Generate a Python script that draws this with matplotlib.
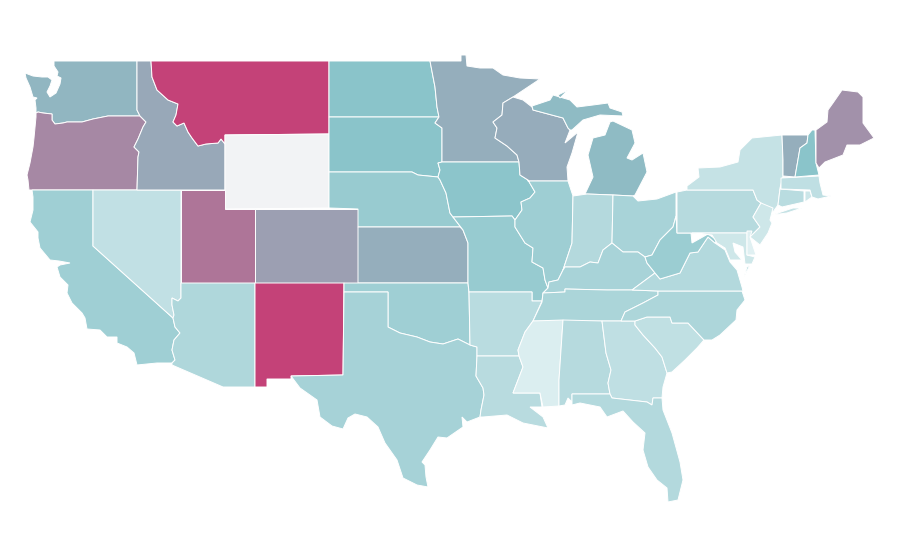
import matplotlib
matplotlib.use('Agg')
import matplotlib.pyplot as plt
from matplotlib.colors import LinearSegmentedColormap

# state values (nan = no data)
nan = float('nan')
states = ['WA', 'OR', 'CA', 'NV', 'ID', 'MT', 'WY', 'UT', 'AZ', 'CO', 'NM', 'ND', 'SD', 'NE', 'KS', 'OK', 'TX',
          'MN', 'IA', 'MO', 'AR', 'LA', 'WI', 'IL', 'MI', 'IN', 'OH', 'KY', 'TN', 'MS', 'AL', 'GA', 'FL', 'SC',
          'NC', 'VA', 'WV', 'PA', 'NY', 'NJ', 'MD', 'DE', 'CT', 'RI', 'MA', 'VT', 'NH', 'ME']
values = [0.47, 0.725, 0.265, 0.126, 0.60, 1.0, nan, 0.80, 0.20, 0.635, 1.0, 0.35, 0.35, 0.293, 0.55, 0.265, 0.236,
          0.55, 0.34, 0.297, 0.16, 0.167, 0.56, 0.27, 0.43, 0.18, 0.228, 0.228, 0.215, 0.02, 0.175, 0.134, 0.187, 0.13,
          0.21, 0.187, 0.285, 0.175, 0.11, 0.077, 0.077, 0.0, 0.16, 0.085, 0.134, 0.55, 0.35, 0.69]

# borders shared by two states, in picture coordinates
id_mt = [(151, 61), (152, 77), (157, 90), (168, 100), (178, 104), (176, 115), (173, 122), (177, 126), (184, 123),
         (188, 132), (192, 138), (198, 146), (206, 144), (218, 143), (221, 139), (225, 144)]
wa_or = [(36, 113), (38, 112), (43, 113), (52, 114), (52, 120), (55, 124), (63, 123), (67, 122), (82, 122),
         (93, 119), (108, 116), (140, 116)]
or_id = [(140, 116), (146, 122), (143, 127), (138, 139), (134, 147), (139, 152), (138, 157), (137, 190)]
ca_az = [(173, 318), (175, 327), (180, 333), (174, 340), (172, 350), (175, 360), (172, 363)]
nv_az = [(181, 283), (181, 298), (178, 301), (172, 298), (172, 305), (174, 315), (173, 318)]
ok_tx = [(388, 292), (388, 327), (400, 333), (417, 337), (430, 342), (443, 344), (458, 339), (470, 345)]
nd_mn = [(430, 61), (435, 87), (437, 107), (439, 117)]
sd_mn = [(439, 117), (435, 123), (442, 128), (442, 162)]
sd_ia = [(442, 162), (438, 163), (440, 170), (438, 177)]
ne_ia = [(438, 177), (440, 180), (446, 193), (450, 213), (453, 217)]
ne_mo = [(453, 217), (463, 230)]
mo_ks = [(463, 230), (468, 243), (468, 283)]
mn_wi = [(503, 103), (502, 115), (493, 122), (497, 128), (495, 138), (507, 146), (517, 155), (519, 162)]
ia_il = [(519, 162), (520, 175), (528, 180), (535, 192), (530, 198), (521, 202), (522, 210), (515, 220), (512, 216)]
il_mo = [(515, 220), (515, 227), (525, 243), (533, 248), (532, 262), (543, 268), (545, 280), (548, 288)]
il_ky = [(548, 288), (549, 282), (558, 280), (563, 270)]
in_il = [(563, 270), (572, 243), (573, 196), (568, 181)]
in_ky = [(563, 270), (565, 267), (580, 267), (590, 262), (598, 263), (603, 250), (612, 243)]
oh_ky = [(612, 243), (623, 252), (638, 252), (645, 257)]
oh_wv = [(645, 257), (652, 255), (660, 240), (673, 227), (676, 216)]
ky_wv = [(645, 257), (647, 263), (655, 273)]
ky_va = [(655, 273), (632, 290)]
wv_va = [(655, 273), (660, 279), (680, 273), (690, 253), (698, 252), (708, 237), (715, 243)]
ky_tn = [(543, 293), (565, 292), (565, 289), (607, 290), (632, 290)]
mo_tn = [(548, 288), (543, 293)]
la_ms = [(519, 356), (523, 367), (513, 393), (540, 393), (542, 407)]
tn_nc = [(658, 291), (658, 295), (643, 303), (625, 312), (621, 321)]
nc_sc = [(635, 321), (647, 317), (670, 317), (672, 323), (688, 323), (704, 340)]
sc_ga = [(635, 321), (635, 325), (643, 335), (655, 348), (662, 357), (667, 373)]
al_ga = [(602, 321), (606, 353), (611, 370), (608, 383), (610, 394)]
ny_pa = [(687, 190), (753, 190), (757, 200), (761, 203)]
pa_nj = [(761, 203), (753, 217), (760, 227), (750, 237)]
vt_nh = [(808, 135), (807, 143), (800, 148), (795, 177)]
ny_vt = [(782, 135), (783, 160), (783, 176)]

outlines = {
    'WA': [(54, 61), (137, 61), (137, 110)] + wa_or[::-1] + [(36, 108), (35, 100), (37, 98), (33, 97), (30, 87), (26, 78),
          (25, 73), (33, 76), (42, 77), (48, 77), (52, 80), (50, 86), (47, 92), (50, 97), (56, 93), (60, 84), (61, 78),
          (57, 76), (58, 72), (54, 66)],
    'OR': wa_or + or_id + [(29, 190), (28, 180), (27, 175), (30, 163), (33, 147), (34, 138), (36, 117)],
    'CA': [(32, 190), (93, 190), (93, 246)] + ca_az + [(157, 363), (137, 365), (134, 353), (127, 347), (117, 343), (117, 337),
          (107, 337), (100, 330), (87, 329), (85, 318), (82, 313), (72, 303), (67, 293), (68, 285), (60, 277), (57, 267),
          (60, 265), (70, 263), (59, 261), (50, 260), (40, 248), (38, 238), (38, 232), (30, 222), (33, 210), (33, 197)],
    'NV': [(93, 190), (181, 190)] + nv_az + [(93, 246)],
    'ID': [(137, 61)] + id_mt + [(225, 190)] + or_id[::-1] + [(137, 110)],
    'MT': id_mt + [(225, 135), (329, 134), (329, 61)],
    'WY': [(225, 135), (329, 134), (329, 208), (225, 209)],
    'UT': [(181, 190), (225, 190), (225, 209), (255, 209), (255, 283), (181, 283)],
    'AZ': [(181, 283), (255, 283), (255, 387), (223, 387), (172, 365)] + ca_az[::-1] + nv_az[::-1][1:],
    'CO': [(255, 209), (358, 209), (358, 283), (255, 283)],
    'NM': [(255, 283), (344, 283), (343, 375), (291, 376), (291, 379), (267, 379), (267, 387), (255, 387)],
    'ND': [(329, 61)] + nd_mn + [(329, 117)],
    'SD': [(329, 117)] + sd_mn + sd_ia + [(418, 175), (412, 172), (329, 172)],
    'NE': [(329, 172), (412, 172), (418, 175), (438, 177)] + ne_ia + ne_mo + [(460, 227), (358, 227), (358, 209), (329, 208)],
    'KS': [(358, 227), (460, 227)] + mo_ks + [(358, 283)],
    'OK': [(344, 283), (468, 283), (469, 293), (470, 345)] + ok_tx[::-1] + [(344, 292)],
    'TX': [(344, 292)] + ok_tx + [(477, 347), (477, 356), (476, 376), (483, 388), (484, 395), (481, 410), (480, 417),
          (467, 422), (462, 417), (463, 427), (447, 438), (438, 437), (430, 450), (422, 462), (425, 465), (426, 477),
          (428, 487), (417, 485), (403, 478), (397, 460), (385, 443), (378, 427), (367, 417), (355, 414), (348, 418),
          (343, 429), (332, 426), (320, 417), (317, 400), (300, 388), (291, 376), (343, 375)],
    'MN': nd_mn[:1] + [(461, 61), (461, 55), (466, 55), (467, 66), (480, 68), (493, 68), (503, 75), (520, 78), (540, 79),
          (513, 97)] + mn_wi + [(442, 162)] + sd_mn[::-1][1:] + nd_mn[::-1][1:],
    'IA': sd_ia[:1] + [(519, 162)] + ia_il + [(453, 217)] + ne_ia[::-1][1:] + sd_ia[::-1][:-1],
    'MO': [(453, 217), (512, 216)] + il_mo + mo_tn + [(542, 301), (532, 301), (532, 292), (469, 292), (468, 283)] + mo_ks[::-1][1:] + ne_mo[::-1],
    'AR': [(469, 292), (532, 292), (532, 301), (542, 301), (533, 321), (525, 332), (518, 350), (519, 356), (477, 356),
           (477, 347), (470, 345)],
    'LA': [(477, 356)] + la_ms + [(530, 407), (543, 417), (548, 428), (533, 425), (523, 423), (507, 415), (483, 417),
           (480, 417), (481, 410), (484, 395), (483, 388), (476, 376)],
    'WI': [(503, 103), (513, 97), (523, 100), (532, 107), (533, 110), (563, 118), (568, 128), (570, 130), (565, 143),
           (578, 132), (572, 153), (567, 167), (568, 181), (528, 181), (528, 180), (520, 175), (519, 162)] + mn_wi[::-1][1:],
    'IL': [(528, 181), (568, 181), (573, 196), (572, 243), (563, 270), (558, 280), (549, 282), (548, 288)] + il_mo[::-1] + ia_il[::-1][1:7],
    'IN': [(573, 196), (587, 194), (613, 195), (612, 243)] + in_ky[::-1] + [(572, 243)],
    'OH': [(613, 195), (633, 196), (638, 201), (657, 199), (676, 192), (676, 216)] + oh_wv[::-1] + oh_ky[::-1],
    'KY': in_ky + oh_ky + ky_wv + ky_va + ky_tn[::-1] + mo_tn[::-1] + il_ky[:-1],
    'TN': ky_tn + [(658, 291)] + tn_nc[1:] + [(533, 321), (542, 302)],
    'MS': [(533, 321), (563, 320), (559, 380), (559, 406), (543, 407), (540, 393), (513, 393), (523, 367), (519, 356), (518, 350), (525, 332)],
    'AL': [(563, 320), (602, 321)] + al_ga[1:] + [(572, 394), (572, 402), (568, 398), (565, 405), (559, 406), (559, 380)],
    'GA': [(602, 321), (635, 321)] + sc_ga[1:] + [(663, 387), (662, 398), (653, 398), (652, 405), (647, 402), (612, 398)] + al_ga[::-1][:-1],
    'FL': [(572, 394), (610, 394), (612, 398), (647, 402), (652, 405), (653, 398), (662, 398), (663, 410), (672, 433),
           (680, 462), (683, 480), (678, 500), (668, 502), (667, 488), (657, 480), (648, 467), (643, 450), (645, 433),
           (633, 422), (623, 411), (607, 417), (600, 407), (580, 403), (572, 405)],
    'SC': nc_sc + [(697, 348), (685, 360), (672, 372)] + sc_ga[::-1],
    'NC': [(658, 291), (742, 291), (745, 300), (737, 310), (736, 320), (720, 335), (712, 340), (704, 340)] + nc_sc[::-1] + tn_nc[::-1],
    'VA': [(632, 290), (655, 273)] + wv_va[1:] + [(725, 250), (730, 262), (737, 270), (742, 287), (743, 291), (658, 291)],
    'WV': ky_wv[:1] + oh_wv[1:] + [(677, 233), (691, 233), (692, 243), (708, 234), (717, 240)] + wv_va[::-1] + ky_wv[::-1][1:],
    'PA': [(677, 192)] + ny_pa + pa_nj + [(747, 233), (677, 233)],
    'NY': ny_pa[:1] + [(687, 186), (699, 177), (698, 168), (720, 167), (738, 162), (740, 150), (752, 138)] + ny_vt +
          [(780, 188), (778, 205), (773, 212)] + ny_pa[::-1][:-1],
    'NJ': [(761, 203), (773, 208), (770, 220), (772, 223), (768, 233), (760, 245), (750, 237)] + pa_nj[::-1][1:-1],
    'MD': [(692, 233), (747, 233), (747, 255), (755, 257), (752, 264), (745, 264), (743, 247), (733, 243), (735, 252),
           (742, 260), (730, 260), (725, 248), (717, 243), (712, 235)],
    'DE': [(747, 231), (752, 231), (750, 237), (756, 255), (747, 255)],
    'CT': [(780, 189), (804, 191), (804, 202), (782, 207), (778, 205)],
    'RI': [(805, 191), (810, 191), (812, 197), (805, 202)],
    'MA': [(781, 178), (819, 176), (820, 183), (823, 195), (831, 196), (818, 199), (812, 197), (810, 190), (781, 189)],
    'VT': [(782, 135), (808, 135), (807, 143), (800, 148), (795, 177), (783, 176), (783, 160)],
    'NH': [(812, 130), (815, 130), (816, 163), (819, 175), (795, 177)] + vt_nh[::-1][1:],
    'ME': [(816, 130), (827, 122), (828, 110), (833, 103), (842, 90), (858, 92), (863, 97), (863, 123), (874, 138),
           (860, 145), (847, 145), (843, 155), (825, 162), (819, 168), (816, 163)],
}

# second pieces of a few states
extra_parts = {
    'MI': [[(553, 95), (570, 100), (577, 107), (593, 105), (608, 103), (610, 108), (622, 112), (623, 116), (600, 115),
            (583, 120), (572, 130), (570, 130), (568, 128), (563, 118), (533, 110), (532, 106), (550, 100)],
           [(558, 95), (568, 90), (560, 98)],
           [(613, 121), (632, 130), (635, 143), (627, 158), (632, 160), (643, 153), (647, 172), (635, 195), (633, 196),
            (613, 195), (587, 194), (585, 194), (593, 177), (588, 155), (593, 138), (605, 135), (610, 122)]],
    'NY': [[(772, 215), (793, 208), (802, 208), (787, 213)]],
    'VA': [[(750, 265), (744, 277), (747, 267)]],
}

cmap = LinearSegmentedColormap.from_list('rate', [(0, '#e0f0f2'), (0.35, '#8ac4ca'), (0.6, '#98a8b8'), (1, '#c44278')])
cmap.set_bad('#f2f3f5')

fig = plt.figure(figsize=(9, 5.6), dpi=100)
ax = fig.add_axes([0, 0, 1, 1])

for name, value in zip(states, values):
    parts = extra_parts.get(name, [])
    if name in outlines:
        parts = [outlines[name]] + parts
    for part in parts:
        xs = [p[0] for p in part]
        ys = [p[1] for p in part]
        ax.fill(xs, ys, facecolor=cmap(value), edgecolor='white', linewidth=0.7)

ax.set_xlim(0, 900)
ax.set_ylim(560, 0)
ax.axis('off')

fig.savefig('out.png', dpi=100)
plt.close()
